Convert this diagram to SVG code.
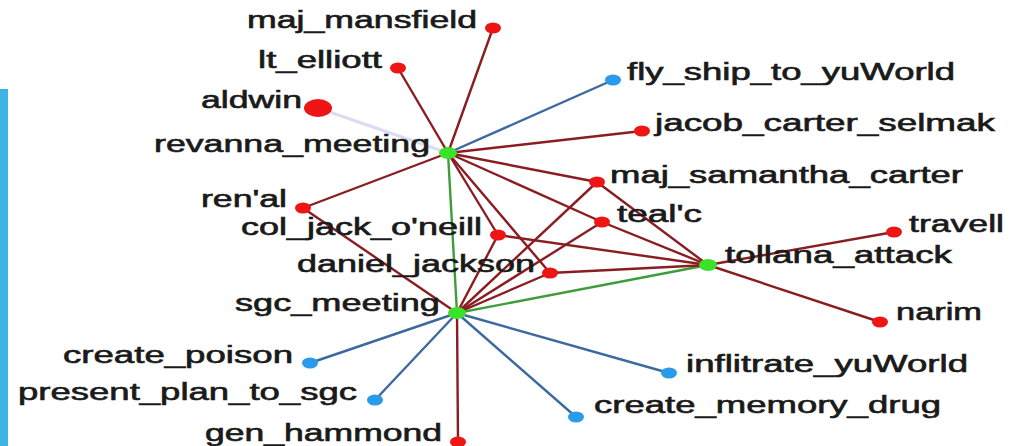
<svg xmlns="http://www.w3.org/2000/svg" width="1013" height="446" viewBox="0 0 1013 446">
<style>
.lbl{font-family:"Liberation Sans",Arial,sans-serif;font-size:23px;fill:#1a1a1a;stroke:#1a1a1a;stroke-width:0.6px;}
.e{fill:none;stroke-width:2.4;stroke-linecap:round;}
.r{stroke:#8a1d22;}
.b{stroke:#3c6aa0;}
.g{stroke:#3f9c3a;}
.l{stroke:#dcdcf0;stroke-width:3;}
.dr{fill:#ee1515;}
.db{fill:#2a9bea;}
.dg{fill:#3ae22a;}
</style>
<rect width="1013" height="446" fill="#ffffff"/>
<rect x="0" y="89" width="8" height="357" fill="#3cb4e4"/>
<g id="connectors">
<line class="e l" x1="448" y1="153" x2="318" y2="108"/>
<line class="e r" x1="448" y1="153" x2="493" y2="28"/>
<line class="e r" x1="448" y1="153" x2="398" y2="68"/>
<line class="e b" x1="448" y1="153" x2="613" y2="80"/>
<line class="e r" x1="448" y1="153" x2="642" y2="131"/>
<line class="e r" x1="448" y1="153" x2="597" y2="182"/>
<line class="e r" x1="448" y1="153" x2="602" y2="222"/>
<line class="e r" x1="448" y1="153" x2="498" y2="235"/>
<line class="e r" x1="448" y1="153" x2="550" y2="273"/>
<line class="e r" x1="448" y1="153" x2="303" y2="208"/>
<line class="e g" x1="448" y1="153" x2="457" y2="313"/>
<line class="e r" x1="457" y1="313" x2="303" y2="208"/>
<line class="e r" x1="457" y1="313" x2="498" y2="235"/>
<line class="e r" x1="457" y1="313" x2="550" y2="273"/>
<line class="e r" x1="457" y1="313" x2="597" y2="182"/>
<line class="e r" x1="457" y1="313" x2="602" y2="222"/>
<line class="e g" x1="457" y1="313" x2="708" y2="265"/>
<line class="e b" x1="457" y1="313" x2="310" y2="363"/>
<line class="e b" x1="457" y1="313" x2="375" y2="400"/>
<line class="e r" x1="457" y1="313" x2="458" y2="442"/>
<line class="e b" x1="457" y1="313" x2="576" y2="417"/>
<line class="e b" x1="457" y1="313" x2="669" y2="373"/>
<line class="e r" x1="708" y1="265" x2="894" y2="232"/>
<line class="e r" x1="708" y1="265" x2="880" y2="322"/>
<line class="e r" x1="708" y1="265" x2="498" y2="235"/>
<line class="e r" x1="708" y1="265" x2="550" y2="273"/>
<line class="e r" x1="708" y1="265" x2="602" y2="222"/>
<line class="e r" x1="708" y1="265" x2="597" y2="182"/>
</g>
<g id="revanna_meeting"><ellipse class="dg" cx="448" cy="153" rx="9" ry="6"/><text class="lbl" x="154" y="152" textLength="276" lengthAdjust="spacingAndGlyphs">revanna_meeting</text></g>
<g id="sgc_meeting"><ellipse class="dg" cx="457" cy="313" rx="9" ry="6"/><text class="lbl" x="235" y="311" textLength="205" lengthAdjust="spacingAndGlyphs">sgc_meeting</text></g>
<g id="tollana_attack"><ellipse class="dg" cx="708" cy="265" rx="9" ry="6"/><text class="lbl" x="725" y="263" textLength="227" lengthAdjust="spacingAndGlyphs">tollana_attack</text></g>
<g id="maj_mansfield"><ellipse class="dr" cx="493" cy="28" rx="8" ry="5.5"/><text class="lbl" x="247" y="28" textLength="230" lengthAdjust="spacingAndGlyphs">maj_mansfield</text></g>
<g id="lt_elliott"><ellipse class="dr" cx="398" cy="68" rx="8" ry="5.5"/><text class="lbl" x="258" y="68" textLength="124" lengthAdjust="spacingAndGlyphs">lt_elliott</text></g>
<g id="aldwin"><ellipse class="dr" cx="318" cy="108" rx="14" ry="9"/><text class="lbl" x="201" y="108" textLength="101" lengthAdjust="spacingAndGlyphs">aldwin</text></g>
<g id="fly_ship_to_yuWorld"><ellipse class="db" cx="613" cy="80" rx="8" ry="5.5"/><text class="lbl" x="627" y="80" textLength="328" lengthAdjust="spacingAndGlyphs">fly_ship_to_yuWorld</text></g>
<g id="jacob_carter_selmak"><ellipse class="dr" cx="642" cy="131" rx="8" ry="5.5"/><text class="lbl" x="655" y="131" textLength="340" lengthAdjust="spacingAndGlyphs">jacob_carter_selmak</text></g>
<g id="maj_samantha_carter"><ellipse class="dr" cx="597" cy="182" rx="8" ry="5.5"/><text class="lbl" x="610" y="183" textLength="353" lengthAdjust="spacingAndGlyphs">maj_samantha_carter</text></g>
<g id="tealc"><ellipse class="dr" cx="602" cy="222" rx="8" ry="5.5"/><text class="lbl" x="617" y="222" textLength="85" lengthAdjust="spacingAndGlyphs">teal'c</text></g>
<g id="renal"><ellipse class="dr" cx="303" cy="208" rx="8" ry="5.5"/><text class="lbl" x="201" y="207" textLength="86" lengthAdjust="spacingAndGlyphs">ren'al</text></g>
<g id="col_jack_oneill"><ellipse class="dr" cx="498" cy="235" rx="8" ry="5.5"/><text class="lbl" x="241" y="235" textLength="241" lengthAdjust="spacingAndGlyphs">col_jack_o'neill</text></g>
<g id="daniel_jackson"><ellipse class="dr" cx="550" cy="273" rx="8" ry="5.5"/><text class="lbl" x="297" y="272" textLength="238" lengthAdjust="spacingAndGlyphs">daniel_jackson</text></g>
<g id="travell"><ellipse class="dr" cx="894" cy="232" rx="8" ry="5.5"/><text class="lbl" x="909" y="232" textLength="95" lengthAdjust="spacingAndGlyphs">travell</text></g>
<g id="narim"><ellipse class="dr" cx="880" cy="322" rx="8" ry="5.5"/><text class="lbl" x="896" y="320" textLength="86" lengthAdjust="spacingAndGlyphs">narim</text></g>
<g id="create_poison"><ellipse class="db" cx="310" cy="363" rx="8" ry="5.5"/><text class="lbl" x="63" y="363" textLength="230" lengthAdjust="spacingAndGlyphs">create_poison</text></g>
<g id="present_plan_to_sgc"><ellipse class="db" cx="375" cy="400" rx="8" ry="5.5"/><text class="lbl" x="18" y="400" textLength="339" lengthAdjust="spacingAndGlyphs">present_plan_to_sgc</text></g>
<g id="gen_hammond"><ellipse class="dr" cx="458" cy="442" rx="8" ry="5.5"/><text class="lbl" x="205" y="441" textLength="237" lengthAdjust="spacingAndGlyphs">gen_hammond</text></g>
<g id="create_memory_drug"><ellipse class="db" cx="576" cy="417" rx="8" ry="5.5"/><text class="lbl" x="594" y="413" textLength="347" lengthAdjust="spacingAndGlyphs">create_memory_drug</text></g>
<g id="inflitrate_yuWorld"><ellipse class="db" cx="669" cy="373" rx="8" ry="5.5"/><text class="lbl" x="686" y="372" textLength="282" lengthAdjust="spacingAndGlyphs">inflitrate_yuWorld</text></g>
</svg>
